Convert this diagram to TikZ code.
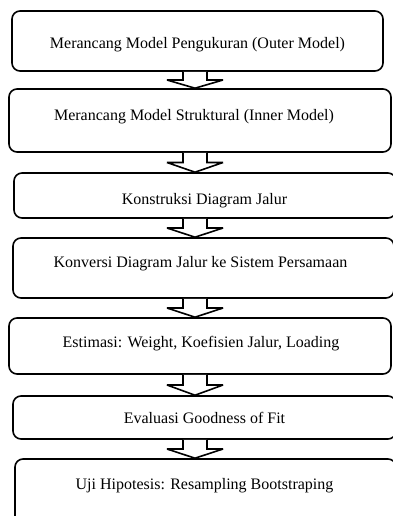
\documentclass[tikz,border=0pt]{standalone}
\usepackage{fontspec}
\setmainfont{Liberation Serif}
\usetikzlibrary{calc}

% block arrow from the bottom of one stage to the top of the next
\newcommand\flowarrow[2]{%
  \coordinate (mid) at ($(#1.south)!.5!(#2.north)$);
  \draw[flow] ([xshift=-12pt]ax |- #1.south) -- ([xshift=-12pt]ax |- mid)
    -- ([xshift=-28pt]ax |- mid) -- (ax |- #2.north)
    -- ([xshift=28pt]ax |- mid) -- ([xshift=12pt]ax |- mid)
    -- ([xshift=12pt]ax |- #1.south);}

\begin{document}
\begin{tikzpicture}[x=1pt,y=-1pt,
  stepbox/.style={draw, line width=1.6pt, rounded corners=8pt, inner sep=0pt},
  steptext/.style={anchor=base, inner sep=0pt, font=\fontsize{16}{19}\selectfont},
  flow/.style={draw, line width=1.6pt, fill=white, miter limit=2}]
\useasboundingbox (0,0) rectangle (392,516);

\coordinate (ax) at (195,0);

% stages
\node[stepbox, minimum width=371, minimum height=60] (b1) at (197.5,41) {};
\node[stepbox, minimum width=382, minimum height=63] (b2) at (200,120.5) {};
\node[stepbox, minimum width=382, minimum height=45] (b3) at (205,195.5) {};
\node[stepbox, minimum width=381, minimum height=60] (b4) at (203.5,268) {};
\node[stepbox, minimum width=382, minimum height=56] (b5) at (200,346) {};
\node[stepbox, minimum width=383, minimum height=43] (b6) at (204.5,417.5) {};
\node[stepbox, minimum width=381, minimum height=71] (b7) at (205.5,494.5) {};

% stage labels
\node[steptext] (t1) at (197.5,49) {Merancang Model Pengukuran (Outer Model)};
\node[steptext] (t2) at (194,121) {Merancang Model Struktural (Inner Model)};
\node[steptext] (t3) at (204.5,204) {Konstruksi Diagram Jalur};
\node[steptext] (t4) at (200.5,267) {Konversi Diagram Jalur ke Sistem Persamaan};
\node[steptext] (t5) at (201,347) {Estimasi: Weight, Koefisien Jalur, Loading};
\node[steptext] (t6) at (204.5,423) {Evaluasi Goodness of Fit};
\node[steptext] (t7) at (204.5,489) {Uji Hipotesis: Resampling Bootstraping};

% arrows between stages
\flowarrow{b1}{b2}
\flowarrow{b2}{b3}
\flowarrow{b3}{b4}
\flowarrow{b4}{b5}
\flowarrow{b5}{b6}
\flowarrow{b6}{b7}
\end{tikzpicture}
\end{document}
